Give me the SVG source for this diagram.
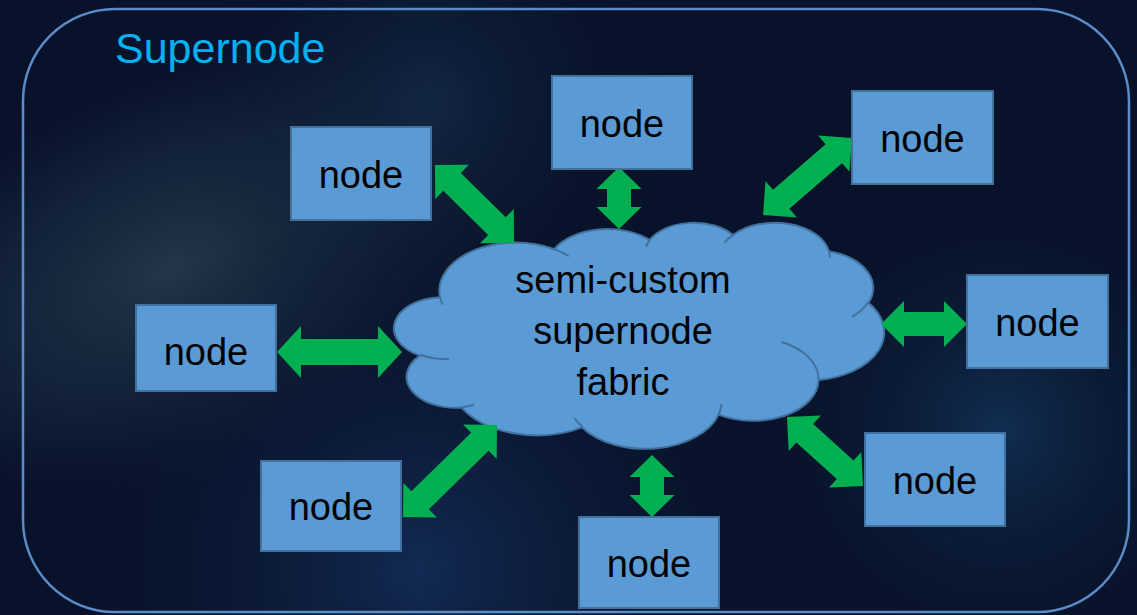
<svg xmlns="http://www.w3.org/2000/svg" width="1137" height="615" viewBox="0 0 1137 615">
  <defs>
    <radialGradient id="gLeft" cx="0" cy="0" r="1" gradientUnits="userSpaceOnUse" gradientTransform="translate(170,270) rotate(-25) scale(380,220)">
      <stop offset="0" stop-color="#34505c" stop-opacity="0.6"/>
      <stop offset="0.55" stop-color="#1f354a" stop-opacity="0.4"/>
      <stop offset="1" stop-color="#0a1528" stop-opacity="0"/>
    </radialGradient>
    <radialGradient id="gBottom" cx="420" cy="570" r="380" gradientUnits="userSpaceOnUse">
      <stop offset="0" stop-color="#1a3a70" stop-opacity="0.6"/>
      <stop offset="1" stop-color="#0a1528" stop-opacity="0"/>
    </radialGradient>
    <radialGradient id="gRight" cx="1000" cy="430" r="260" gradientUnits="userSpaceOnUse">
      <stop offset="0" stop-color="#1c4a7a" stop-opacity="0.5"/>
      <stop offset="1" stop-color="#0a1528" stop-opacity="0"/>
    </radialGradient>
    <radialGradient id="gTop" cx="430" cy="100" r="260" gradientUnits="userSpaceOnUse">
      <stop offset="0" stop-color="#1e3c5c" stop-opacity="0.45"/>
      <stop offset="1" stop-color="#0a1528" stop-opacity="0"/>
    </radialGradient>
    <style>
      .node rect { fill: #5B9BD5; stroke: #41719C; stroke-width: 2; }
      .node text, .label { font-family: "Liberation Sans", Arial, sans-serif; font-size: 38px; fill: #000000; text-anchor: middle; }
      .arrow { fill: #00B050; stroke: none; }
      .cloud { fill: #5B9BD5; stroke: #41719C; stroke-width: 2; }
      .cloudline { fill: none; stroke: #41719C; stroke-width: 2; }
      .title { font-family: "Liberation Sans", Arial, sans-serif; font-size: 43px; fill: #00B0F0; }
    </style>
  </defs>

  <!-- background -->
  <rect x="0" y="0" width="1137" height="615" fill="#08122a"/>
  <rect x="0" y="0" width="1137" height="615" fill="url(#gLeft)"/>
  <rect x="0" y="0" width="1137" height="615" fill="url(#gBottom)"/>
  <rect x="0" y="0" width="1137" height="615" fill="url(#gRight)"/>
  <rect x="0" y="0" width="1137" height="615" fill="url(#gTop)"/>

  <!-- supernode frame -->
  <g id="supernode">
    <rect x="23" y="9" width="1106" height="603" rx="92" ry="92" fill="none" stroke="#5a8cc8" stroke-width="2.5"/>
    <text class="title" x="115" y="63">Supernode</text>
  </g>

  <!-- cloud -->
  <g id="fabric">
    <path class="cloud" d="M440.05,297.18 A76.28,48.08 0 0 1 554.20,249.21 A60.24,38.02 0 0 1 649.66,239.95 A49.31,31.10 0 0 1 732.99,234.98 A54.86,34.50 0 0 1 828.84,251.17 A60.24,38.05 0 0 1 868.38,302.88 A76.53,48.23 0 0 1 818.52,380.01 A65.35,41.16 0 0 1 718.57,414.59 A76.27,48.21 0 0 1 582.16,427.41 A87.21,55.16 0 0 1 461.57,407.56 A49.25,30.96 0 0 1 419.87,355.65 A49.08,31.10 0 0 1 440.05,297.18 Z"/>
    <path class="cloudline" d="M449.01,358.94 A49.08,31.10 0 0 1 420.40,354.77 M474.26,404.57 A49.25,30.96 0 0 1 461.57,407.56 M582.14,426.50 A76.27,48.21 0 0 1 574.62,418.31 M721.63,403.80 A76.27,48.21 0 0 1 718.57,414.59 M781.52,342.08 A65.35,41.16 0 0 1 818.52,380.01 M868.15,302.33 A60.24,38.05 0 0 1 852.02,316.87 M828.91,250.39 A54.86,34.50 0 0 1 829.70,257.78 M724.47,242.67 A54.86,34.50 0 0 1 732.99,234.98 M646.11,246.69 A49.31,31.10 0 0 1 649.66,239.95 M554.14,249.16 A76.28,48.08 0 0 1 568.89,256.27 M442.62,304.60 A76.28,48.08 0 0 1 440.05,297.18"/>
    <text class="label" x="623" y="293">semi-custom</text>
    <text class="label" x="623" y="344">supernode</text>
    <text class="label" x="623" y="395">fabric</text>
  </g>

  <!-- connectors -->
  <g id="connectors">
    <path class="arrow" transform="translate(474.5,204) rotate(44.6)" d="M-55.5,0 L-31.5,-24 L-31.5,-12.5 L31.5,-12.5 L31.5,-24 L55.5,0 L31.5,24 L31.5,12.5 L-31.5,12.5 L-31.5,24 Z"/>
    <path class="arrow" transform="translate(619,198) rotate(90)" d="M-31,0 L-9,-22.5 L-9,-12 L9,-12 L9,-22.5 L31,0 L9,22.5 L9,12 L-9,12 L-9,22.5 Z"/>
    <path class="arrow" transform="translate(807.5,176.5) rotate(139.1)" d="M-58.8,0 L-34.8,-24 L-34.8,-12.5 L34.8,-12.5 L34.8,-24 L58.8,0 L34.8,24 L34.8,12.5 L-34.8,12.5 L-34.8,24 Z"/>
    <path class="arrow" transform="translate(339.5,352)" d="M-62.5,0 L-38.5,-26 L-38.5,-13 L38.5,-13 L38.5,-26 L62.5,0 L38.5,26 L38.5,13 L-38.5,13 L-38.5,26 Z"/>
    <path class="arrow" transform="translate(924,324)" d="M-43,0 L-20,-23 L-20,-12 L20,-12 L20,-23 L43,0 L20,23 L20,12 L-20,12 L-20,23 Z"/>
    <path class="arrow" transform="translate(450,471) rotate(-44.4)" d="M-65.8,0 L-41.8,-24 L-41.8,-12.5 L41.8,-12.5 L41.8,-24 L65.8,0 L41.8,24 L41.8,12.5 L-41.8,12.5 L-41.8,24 Z"/>
    <path class="arrow" transform="translate(652,486) rotate(90)" d="M-31,0 L-9,-22.5 L-9,-12 L9,-12 L9,-22.5 L31,0 L9,22.5 L9,12 L-9,12 L-9,22.5 Z"/>
    <path class="arrow" transform="translate(825,451.5) rotate(42.2)" d="M-51.3,0 L-27.3,-24 L-27.3,-12.5 L27.3,-12.5 L27.3,-24 L51.3,0 L27.3,24 L27.3,12.5 L-27.3,12.5 L-27.3,24 Z"/>
  </g>

  <!-- nodes -->
  <g id="node1" class="node"><rect x="291" y="127" width="140" height="93"/><text x="361" y="188">node</text></g>
  <g id="node2" class="node"><rect x="552" y="76" width="140" height="93"/><text x="622" y="137">node</text></g>
  <g id="node3" class="node"><rect x="852" y="91" width="141" height="93"/><text x="922.5" y="152">node</text></g>
  <g id="node4" class="node"><rect x="136" y="305" width="140" height="86"/><text x="206" y="365">node</text></g>
  <g id="node5" class="node"><rect x="967" y="275" width="141" height="93"/><text x="1037.5" y="336">node</text></g>
  <g id="node6" class="node"><rect x="261" y="461" width="140" height="90"/><text x="331" y="520">node</text></g>
  <g id="node7" class="node"><rect x="865" y="433" width="140" height="93"/><text x="935" y="494">node</text></g>
  <g id="node8" class="node"><rect x="579" y="517" width="140" height="91"/><text x="649" y="577">node</text></g>
</svg>
